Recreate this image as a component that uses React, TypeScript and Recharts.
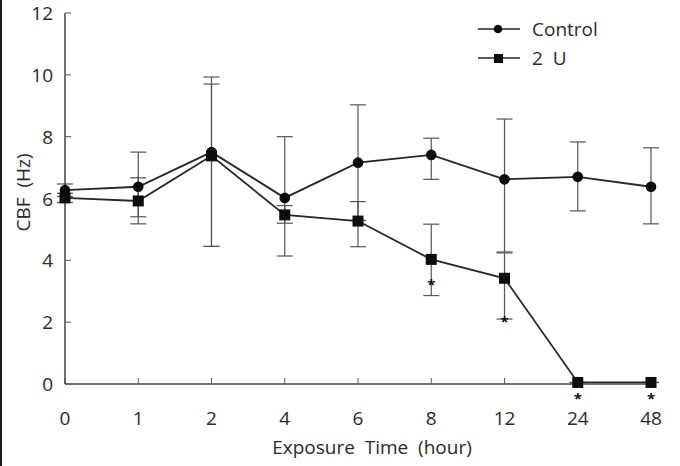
import { LineChart, Line, XAxis, YAxis, ErrorBar, LabelList, Legend } from "recharts";

// exposure times (hours), evenly spaced categories
const times = ["0", "1", "2", "4", "6", "8", "12", "24", "48"];

// mean CBF (Hz)
const control = [6.27, 6.38, 7.5, 6.02, 7.16, 7.41, 6.62, 6.7, 6.38];
const dose2U = [6.02, 5.92, 7.38, 5.47, 5.27, 4.03, 3.42, 0.05, 0.05];

// error bar extents below / above the mean
const controlLo = [0.2, 1.2, 3.05, 1.88, 1.87, 0.79, 2.35, 1.1, 1.2];
const controlHi = [0.2, 1.12, 2.43, 1.98, 1.87, 0.54, 1.95, 1.13, 1.26];
const dose2ULo = [0.15, 0.51, 2.93, 0.27, 0.83, 1.17, 1.32, 0, 0];
const dose2UHi = [0.15, 0.75, 2.32, 0.3, 0.63, 1.14, 0.82, 0, 0];

// significance marks: drawn at a value, or just under the point
const sigAt = [null, null, null, null, null, 3.3, 2.1, null, null];
const sigUnder = [false, false, false, false, false, false, false, true, true];

const yTicks = [0, 2, 4, 6, 8, 10, 12];
const legendOrder = ["control", "dose"];

const data = times.map((t, i) => ({
  time: t,
  control: control[i],
  controlErr: [controlLo[i], controlHi[i]],
  dose: dose2U[i],
  doseErr: [dose2ULo[i], dose2UHi[i]],
  sig: sigAt[i],
  sigUnder: sigUnder[i] ? "*" : "",
}));

const FONT = "'Open Sans', 'DejaVu Sans', sans-serif";
const INK = "#2a2a2a";
const LINE = "#262626";
const TICK_SIZE = 19;

const CircleDot = (p: any) => {
  if (p.cx == null || p.cy == null) return <g key={p.index} />;
  return <circle key={p.index} cx={p.cx} cy={p.cy} r={5.3} fill="#0d0d0d" />;
};

const SquareDot = (p: any) => {
  if (p.cx == null || p.cy == null) return <g key={p.index} />;
  return <rect key={p.index} x={p.cx - 5.5} y={p.cy - 5.5} width={11} height={11} fill="#0d0d0d" />;
};

const Star = ({ x, y }: { x: number; y: number }) => (
  <text x={x} y={y + 8} textAnchor="middle" fontSize={15} fontWeight="bold" fill="#111" fontFamily={FONT}>
    *
  </text>
);

const StarDot = (p: any) => {
  if (p.cx == null || p.cy == null || p.value == null) return <g key={p.index} />;
  return <Star key={p.index} x={p.cx} y={p.cy} />;
};

const StarUnder = (p: any) => {
  if (!p.value) return null;
  const vb = p.viewBox || {};
  const x = p.x ?? vb.x;
  const y = p.y ?? vb.y;
  return <Star x={x} y={y + 14} />;
};

const renderLegend = (props: any) => {
  const items = (props.payload || [])
    .filter((e: any) => legendOrder.includes(e.dataKey))
    .sort((a: any, b: any) => legendOrder.indexOf(a.dataKey) - legendOrder.indexOf(b.dataKey));
  return (
    <div style={{ fontFamily: FONT, fontSize: 19, color: INK }}>
      {items.map((e: any) => (
        <div key={e.dataKey} style={{ display: "flex", alignItems: "center", height: 29 }}>
          <svg width={44} height={14} style={{ marginRight: 10 }}>
            <line x1={0} y1={7} x2={42} y2={7} stroke={LINE} strokeWidth={1.6} />
            {e.dataKey === "control" ? (
              <circle cx={20} cy={7} r={4.3} fill="#0d0d0d" />
            ) : (
              <rect x={16} y={3} width={9} height={9} fill="#0d0d0d" />
            )}
          </svg>
          <span style={{ whiteSpace: "pre" }}>{e.value}</span>
        </div>
      ))}
    </div>
  );
};

// tick label drawn as plain svg text so the size is honoured
const AxisTick = (anchor: "middle" | "end", dx: number, dy: number) => (p: any) => (
  <text
    x={p.x + dx}
    y={p.y + dy}
    textAnchor={anchor}
    fontSize={TICK_SIZE}
    fill={INK}
    fontFamily={FONT}
  >
    {p.payload.value}
  </text>
);

const YLabel = (p: any) => {
  const vb = p.viewBox;
  return (
    <text
      transform={`translate(${vb.x + 15}, ${vb.y + vb.height / 2 - 6}) rotate(-90)`}
      textAnchor="middle"
      fontSize={19}
      fill={INK}
      fontFamily={FONT}
      style={{ whiteSpace: "pre" }}
    >
      {"CBF  (Hz)"}
    </text>
  );
};

const XLabel = (p: any) => {
  const vb = p.viewBox;
  return (
    <text
      x={vb.x + vb.width / 2 + 14}
      y={vb.y + 70}
      textAnchor="middle"
      fontSize={19}
      fill={INK}
      fontFamily={FONT}
      style={{ whiteSpace: "pre" }}
    >
      {"Exposure  Time  (hour)"}
    </text>
  );
};

export default function App() {
  return (
    <div style={{ position: "absolute", left: 0, top: 0, width: 680, height: 466, background: "#fff" }}>
      <div style={{ position: "absolute", left: 0, top: 0, width: 2, height: 466, background: "#1a1a1a" }} />
      <LineChart
        width={680}
        height={466}
        data={data}
        margin={{ top: 13, right: 29, bottom: 22, left: 15 }}
        style={{ position: "absolute", left: 0, top: 0 }}
      >
        <XAxis
          dataKey="time"
          height={60}
          interval={0}
          tickSize={-6}
          tickMargin={0}
          axisLine={{ stroke: "#444", strokeWidth: 1.5 }}
          tickLine={{ stroke: "#555", strokeWidth: 1 }}
          tick={AxisTick("middle", 0, 47)}
          label={<XLabel />}
        />
        <YAxis
          type="number"
          domain={[0, 12]}
          ticks={yTicks}
          width={50}
          tickSize={-6}
          tickMargin={0}
          axisLine={{ stroke: "#444", strokeWidth: 1.5 }}
          tickLine={{ stroke: "#555", strokeWidth: 1 }}
          tick={AxisTick("end", -18, 7)}
          label={<YLabel />}
        />
        <Legend
          layout="vertical"
          align="center"
          verticalAlign="middle"
          content={renderLegend}
          wrapperStyle={{ top: 14, left: 478, width: 190 }}
        />
        <Line
          dataKey="control"
          name="Control"
          stroke={LINE}
          strokeWidth={1.8}
          dot={CircleDot}
          activeDot={false}
          isAnimationActive={false}
        >
          <ErrorBar dataKey="controlErr" direction="y" width={8} stroke="#555" strokeWidth={1.2} />
        </Line>
        <Line
          dataKey="dose"
          name={"2  U"}
          stroke={LINE}
          strokeWidth={1.8}
          dot={SquareDot}
          activeDot={false}
          isAnimationActive={false}
        >
          <ErrorBar dataKey="doseErr" direction="y" width={8} stroke="#555" strokeWidth={1.2} />
          <LabelList dataKey="sigUnder" content={StarUnder} />
        </Line>
        <Line
          dataKey="sig"
          stroke="none"
          legendType="none"
          dot={StarDot}
          activeDot={false}
          isAnimationActive={false}
        />
      </LineChart>
    </div>
  );
}
